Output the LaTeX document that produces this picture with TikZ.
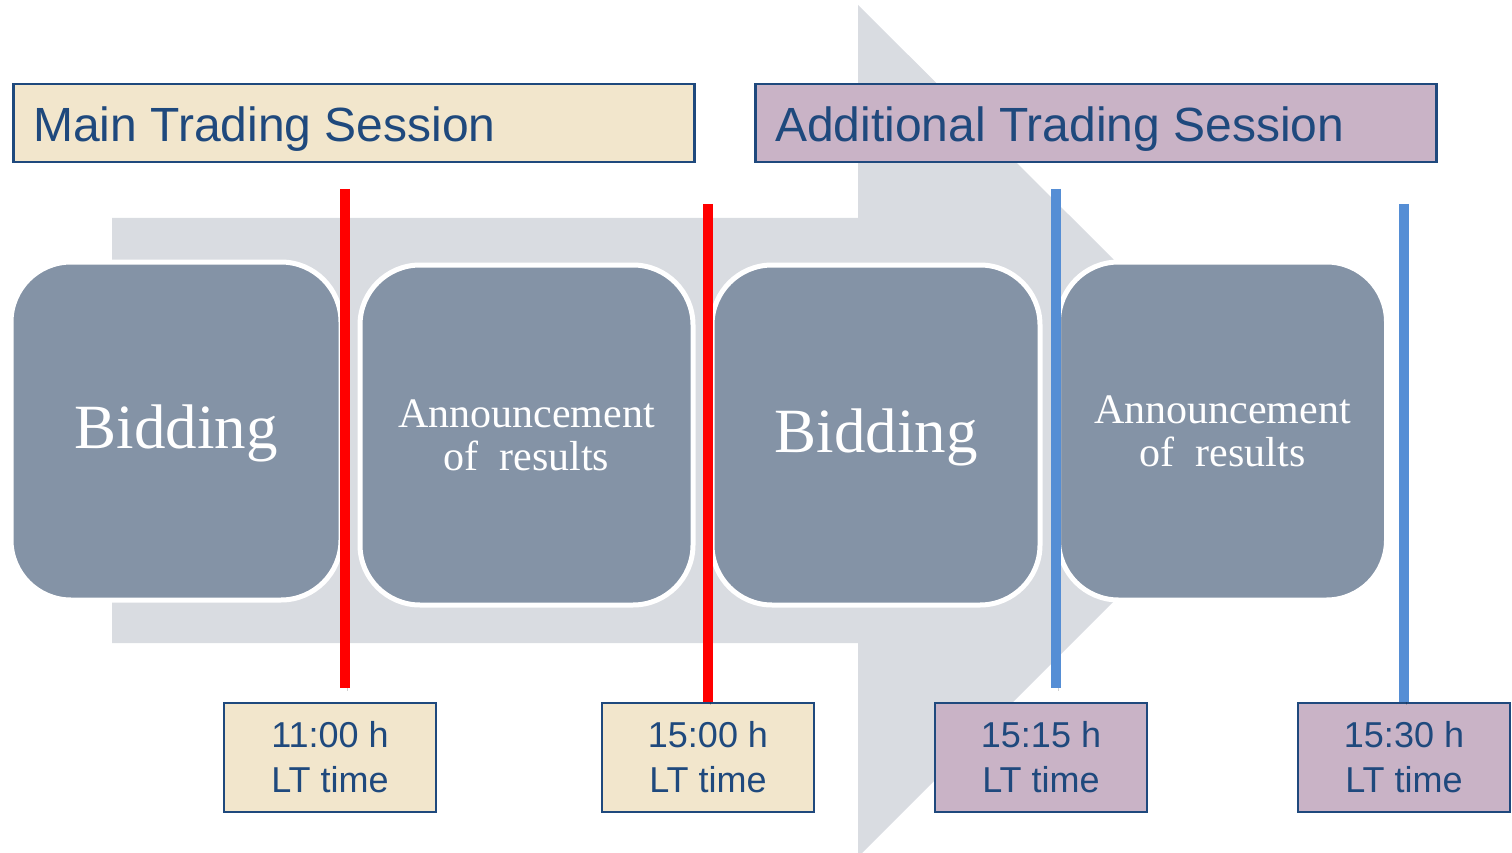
\documentclass[tikz,border=0pt]{standalone}
\usepackage{fontspec}
\setmainfont{Liberation Serif}
\setsansfont{Liberation Sans}
\definecolor{arrowgray}{HTML}{D9DCE1}
\definecolor{stagefill}{HTML}{8493A6}
\definecolor{navy}{HTML}{1F497D}
\definecolor{beige}{HTML}{F2E6CC}
\definecolor{mauve}{HTML}{C9B3C6}
\definecolor{redline}{HTML}{FF0000}
\definecolor{blueline}{HTML}{558ED5}
\begin{document}
\begin{tikzpicture}[x=1pt,y=-1pt,
  stage/.style={draw=white, line width=5pt, fill=stagefill, rounded corners=60pt,
    inner sep=0pt, text=white, align=center},
  bigtxt/.style={font=\fontsize{63}{70}\selectfont, text height=42pt, text depth=8pt},
  smalltxt/.style={font=\fontsize{42}{43}\selectfont},
  hdr/.style={draw=navy, line width=2.5pt, inner sep=0pt, anchor=north west,
    minimum width=681pt, minimum height=78pt},
  hdrtxt/.style={text=navy, font=\sffamily\fontsize{48}{56}\selectfont, anchor=base west, inner sep=0pt},
  tbox/.style={draw=navy, line width=2.5pt, text=navy, align=center, inner sep=0pt,
    minimum width=212pt, minimum height=109pt, font=\sffamily\fontsize{36}{45}\selectfont},
  vline/.style={line width=10pt,
    preaction={draw=black, opacity=0.18, transform canvas={shift={(2.5pt,-3pt)}}}}
  ]
\useasboundingbox (0,0) rectangle (1512,853);
\begin{scope}
\clip (0,0) rectangle (1512,853);
% background arrow
\fill[arrowgray] (112,218) -- (858,218) -- (858,5) -- (1285,430) -- (858,857)
  -- (858,643) -- (112,643) -- cycle;
\end{scope}
% stages
\node[stage, bigtxt, minimum width=330pt, minimum height=338pt] (s1) at (176,431) {Bidding};
\node[stage, smalltxt, minimum width=333pt, minimum height=340pt] (s2) at (526.5,435) {Announcement\\of\ \ results};
\node[stage, bigtxt, minimum width=328pt, minimum height=340pt] (s3) at (876,435) {Bidding};
\node[stage, smalltxt, minimum width=328pt, minimum height=338pt] (s4) at (1222.5,431) {Announcement\\of\ \ results};
% headers
\node[hdr, fill=beige] (main) at (12,83) {};
\node[hdrtxt] (maintxt) at (33,142) {Main Trading Session};
\node[hdr, fill=mauve] (add) at (754,83) {};
\node[hdrtxt] (addtxt) at (775,142) {Additional Trading Session};
% time boxes
\node[tbox, fill=beige] (t1) at (330,757.5) {11:00 h\\LT time};
\node[tbox, fill=beige] (t2) at (708,757.5) {15:00 h\\LT time};
\node[tbox, fill=mauve] (t3) at (1041,757.5) {15:15 h\\LT time};
\node[tbox, fill=mauve] (t4) at (1404,757.5) {15:30 h\\LT time};
% time lines
\coordinate (l1) at (345,189);
\coordinate (l2) at (708,204);
\coordinate (l3) at (1056,189);
\coordinate (l4) at (1404,204);
\coordinate (e1) at (345,688);
\coordinate (e3) at (1056,688);
\draw[vline, redline] (l1) -- (e1);
\draw[vline, redline] (l2) -- (t2.north);
\draw[vline, blueline] (l3) -- (e3);
\draw[vline, blueline] (l4) -- (t4.north);
\end{tikzpicture}
\end{document}
